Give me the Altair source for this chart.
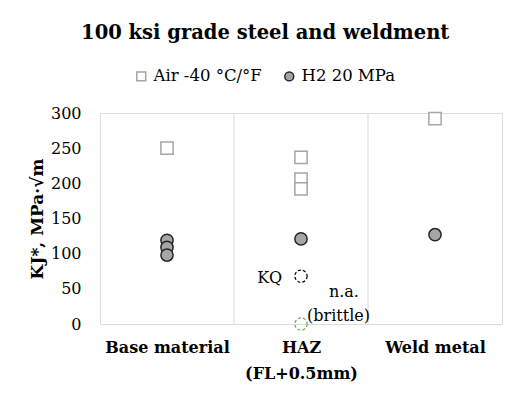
import altair as alt
import pandas as pd

categories = ["Base material", "HAZ", "Weld metal"]
cat_labels_expr = "datum.value == 0 ? 'Base material' : datum.value == 1 ? ['HAZ', '(FL+0.5mm)'] : datum.value == 2 ? 'Weld metal' : ''"

series_names = ["Air -40 °C/°F", "H2 20 MPa"]

air_cat = [0, 1, 1, 1, 2]
air_val = [250, 237, 206, 192, 292]

h2_cat = [0, 0, 0, 1, 2]
h2_val = [119, 109, 98, 121, 127]

dash_cat = [1, 1]
dash_val = [68, 0]
dash_color = ["#000000", "#70ad47"]

note_text = ["KQ", "n.a.", "(brittle)"]
note_x = [0.86, 1.32, 1.28]
note_y = [65, 45, 11]
note_align = ["right", "center", "center"]

dividers = [0.5, 1.5]

FONT = "DejaVu Serif"

pts = pd.DataFrame(
    {"cat": air_cat + h2_cat,
     "val": air_val + h2_val,
     "series": [series_names[0]] * len(air_cat) + [series_names[1]] * len(h2_cat)}
)
dash_df = pd.DataFrame({"cat": dash_cat, "val": dash_val, "col": dash_color})
notes = pd.DataFrame({"x": note_x, "y": note_y, "t": note_text, "a": note_align})
div_df = pd.DataFrame({"x": dividers})

xscale = alt.Scale(domain=[-0.5, 2.5], nice=False, zero=False)
yscale = alt.Scale(domain=[0, 300], nice=False)

xaxis = alt.Axis(values=[0, 1, 2], labelExpr=cat_labels_expr, title=None, grid=False,
                 ticks=False, domain=False, labelFont=FONT, labelFontWeight="bold",
                 labelFontSize=16, labelColor="#000000", labelPadding=15, labelLineHeight=26)
yaxis = alt.Axis(values=[0, 50, 100, 150, 200, 250, 300], title="KJ*, MPa·√m", grid=False,
                 ticks=False, domain=False, labelFont=FONT, labelFontSize=16,
                 labelColor="#000000", labelPadding=19, titleFont=FONT, titleFontSize=17,
                 titleFontWeight="bold", titleColor="#000000", titlePadding=4)

legend_kw = dict(title=None, orient="none", direction="horizontal", legendX=33, legendY=-45,
                 labelFont=FONT, labelFontSize=16.5, labelColor="#000000", symbolSize=80,
                 columnPadding=19, labelOffset=4)

rules = alt.Chart(div_df).mark_rule(color="#d9d9d9", strokeWidth=1).encode(
    x=alt.X("x:Q", scale=xscale, axis=xaxis)
)

points = alt.Chart(pts).mark_point(size=150, strokeWidth=1.5, opacity=1).encode(
    x=alt.X("cat:Q", scale=xscale, axis=xaxis),
    y=alt.Y("val:Q", scale=yscale, axis=yaxis),
    shape=alt.Shape("series:N", scale=alt.Scale(domain=series_names, range=["square", "circle"]),
                    legend=alt.Legend(**legend_kw)),
    fill=alt.Fill("series:N", scale=alt.Scale(domain=series_names, range=["#ffffff", "#a6a6a6"]),
                  legend=alt.Legend(**legend_kw)),
    stroke=alt.Stroke("series:N", scale=alt.Scale(domain=series_names, range=["#a6a6a6", "#262626"]),
                      legend=alt.Legend(**legend_kw)),
)

dashed = alt.Chart(dash_df).mark_point(shape="circle", filled=False, size=150, strokeWidth=1.2,
                                       strokeDash=[3, 2], opacity=1).encode(
    x=alt.X("cat:Q", scale=xscale, axis=xaxis),
    y=alt.Y("val:Q", scale=yscale, axis=yaxis),
    stroke=alt.Stroke("col:N", scale=None),
)

text_r = alt.Chart(notes[notes.a == "right"]).mark_text(font=FONT, fontSize=16, align="right",
                                                       baseline="middle", color="#000000").encode(
    x=alt.X("x:Q", scale=xscale, axis=xaxis),
    y=alt.Y("y:Q", scale=yscale, axis=yaxis),
    text="t:N",
)
text_c = alt.Chart(notes[notes.a == "center"]).mark_text(font=FONT, fontSize=16, align="center",
                                                        baseline="middle", color="#000000").encode(
    x=alt.X("x:Q", scale=xscale, axis=xaxis),
    y=alt.Y("y:Q", scale=yscale, axis=yaxis),
    text="t:N",
)

chart = alt.layer(rules, points, dashed, text_r, text_c).properties(
    width=402, height=211,
    title=alt.Title("100 ksi grade steel and weldment", font=FONT, fontSize=19.5, fontWeight="bold",
                    color="#000000", anchor="middle", frame="bounds", offset=25),
    padding={"left": 20, "right": 5, "top": 14, "bottom": 5},
).configure_view(stroke="#bfbfbf", strokeWidth=1).configure(background="#ffffff")

chart.save("out.html", embed_options={"renderer": "svg", "actions": False})
